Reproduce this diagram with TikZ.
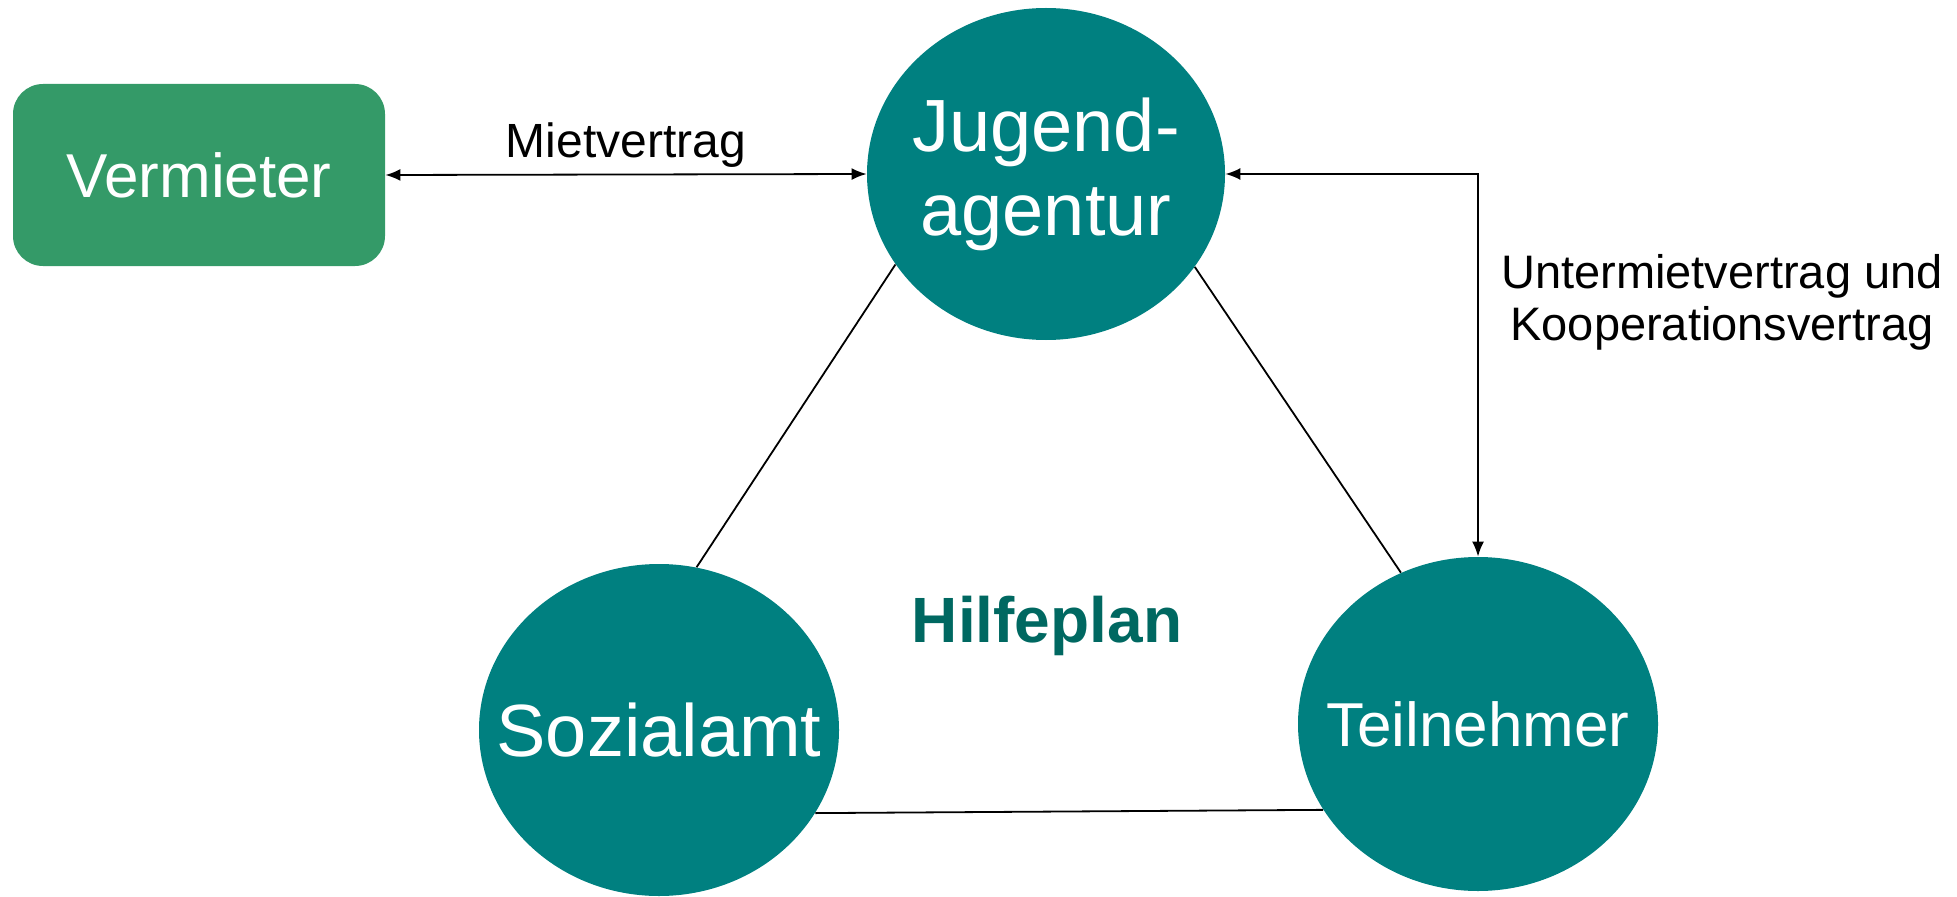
\documentclass[tikz,border=0pt]{standalone}
\usepackage{fontspec}
\setmainfont{Liberation Sans}
\usetikzlibrary{arrows.meta,shapes.geometric}
\definecolor{tealfill}{HTML}{008080}
\definecolor{greenfill}{HTML}{349A68}
\definecolor{tealtext}{HTML}{006861}
\newcommand{\nowide}[1]{\makebox[0pt]{#1}}
\begin{document}
\begin{tikzpicture}[x=0.5pt,y=0.5pt,
    party/.style={ellipse,fill=tealfill,text=white,inner sep=0pt,
      minimum width=180pt,minimum height=166pt,align=center},
    landlord/.style={rectangle,rounded corners=15pt,fill=greenfill,text=white,
      inner sep=0pt,minimum width=186pt,minimum height=91pt},
    contract/.style={<->,>={Latex[length=7.5pt,width=6pt]},line width=0.9pt},
    tie/.style={line width=0.9pt}]
  \useasboundingbox (0,0) rectangle (1957,896);
  \draw
    (1046,722) node[party,minimum width=179pt,font=\fontsize{37pt}{42pt}\selectfont] (jugend)
      {\nowide{Jugend-}\\\nowide{agentur}}
    (659,166) node[party,font=\fontsize{37pt}{41pt}\selectfont] (sozial) {\nowide{Sozialamt}}
    (1478,172) node[party,minimum height=167pt,font=\fontsize{31pt}{36pt}\selectfont] (teiln)
      {\nowide{Teilnehmer}}
    (199,721) node[landlord,font=\fontsize{31pt}{36pt}\selectfont] (vermieter) {Vermieter};
  % Hilfeplan triangle
  \begin{scope}[tie]
    \draw (jugend.211.7) to (sozial.77);
    \draw (jugend.328.6) to (teiln.117.3);
    \draw (sozial.332.9) to (teiln.209.6);
  \end{scope}
  \node[text=tealtext,font=\bfseries\fontsize{32pt}{38pt}\selectfont] (plan)
    at (1047,270) {Hilfeplan};
  % contracts
  \draw[contract] (vermieter.east) -- (jugend.west)
    node[midway,above,inner sep=3pt,font=\fontsize{24pt}{28pt}\selectfont] (miet) {Mietvertrag};
  \draw[contract] (jugend.east) -| (teiln.north);
  \node[align=center,font=\fontsize{23.5pt}{26pt}\selectfont] (unter) at (1722,594)
    {Untermietvertrag und\\Kooperationsvertrag};
\end{tikzpicture}
\end{document}
